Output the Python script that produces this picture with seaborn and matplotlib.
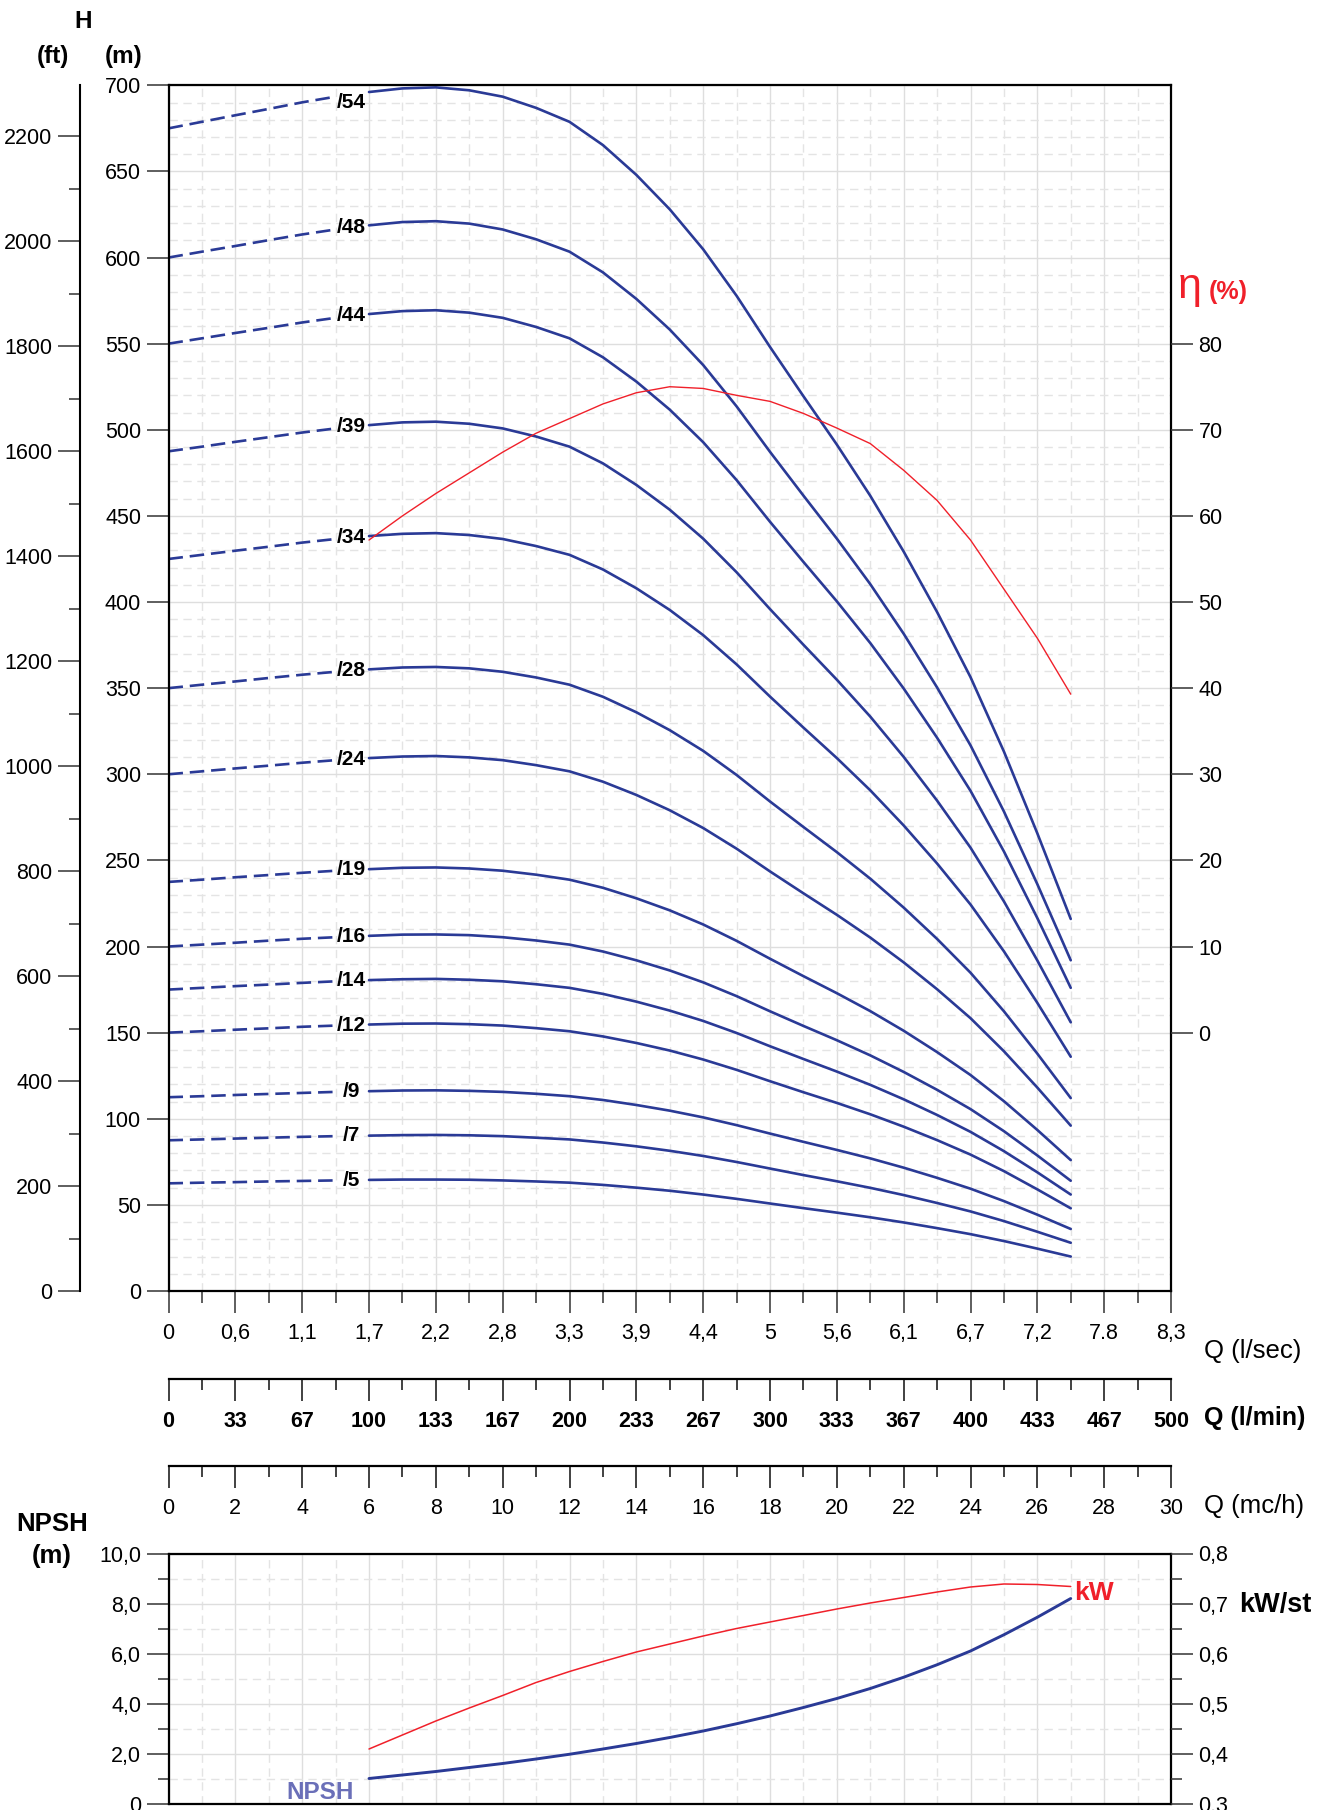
import matplotlib
matplotlib.use("Agg")
import matplotlib.pyplot as plt
import seaborn as sns
from matplotlib.ticker import MultipleLocator

sns.set_style("white")
plt.rcParams['font.family'] = ['Liberation Sans', 'DejaVu Sans']
plt.rcParams['text.color'] = 'black'
plt.rcParams['xtick.labelcolor'] = 'black'
plt.rcParams['ytick.labelcolor'] = 'black'

# flow in m3/h; points 0..5 are the dashed start, 6..27 the solid curve
q = list(range(28))

h5 = [62.5, 62.9, 63.2, 63.6, 63.9, 64.2,
      64.5, 64.7, 64.7, 64.6, 64.2, 63.6, 62.9, 61.6, 60.0, 58.2, 56.0, 53.5, 50.8, 48.1, 45.5, 42.8, 39.8, 36.5, 33.0, 29.0, 24.6, 20.0]
h7 = [87.5, 88.0, 88.5, 89.0, 89.5, 89.9,
      90.2, 90.5, 90.6, 90.4, 89.9, 89.0, 88.0, 86.2, 84.0, 81.4, 78.4, 74.9, 71.1, 67.3, 63.7, 59.9, 55.7, 51.1, 46.2, 40.6, 34.4, 28.0]
h9 = [112.5, 113.1, 113.8, 114.4, 115.0, 115.6,
      116.0, 116.4, 116.5, 116.2, 115.6, 114.5, 113.1, 110.9, 108.0, 104.7, 100.8, 96.3, 91.4, 86.6, 81.9, 77.0, 71.6, 65.7, 59.4, 52.2, 44.3, 36.0]
h12 = [150.0, 150.8, 151.7, 152.5, 153.4, 154.1,
       154.7, 155.2, 155.3, 154.9, 154.1, 152.6, 150.8, 147.8, 144.0, 139.6, 134.4, 128.4, 121.8, 115.4, 109.2, 102.6, 95.4, 87.6, 79.2, 69.6, 59.0, 48.0]
h14 = [175.0, 176.0, 177.0, 177.9, 178.9, 179.8,
       180.5, 181.0, 181.2, 180.7, 179.8, 178.1, 176.0, 172.5, 168.0, 162.8, 156.8, 149.8, 142.1, 134.7, 127.4, 119.7, 111.3, 102.2, 92.4, 81.2, 68.9, 56.0]
h16 = [200.0, 201.1, 202.2, 203.4, 204.5, 205.4,
       206.2, 206.9, 207.0, 206.6, 205.4, 203.5, 201.1, 197.1, 192.0, 186.1, 179.2, 171.2, 162.4, 153.9, 145.6, 136.8, 127.2, 116.8, 105.6, 92.8, 78.7, 64.0]
h19 = [237.5, 238.8, 240.2, 241.5, 242.8, 244.0,
       244.9, 245.7, 245.9, 245.3, 244.0, 241.7, 238.8, 234.1, 228.0, 221.0, 212.8, 203.3, 192.9, 182.8, 172.9, 162.5, 151.1, 138.7, 125.4, 110.2, 93.5, 76.0]
h24 = [300.0, 301.7, 303.4, 305.0, 306.7, 308.2,
       309.4, 310.3, 310.6, 309.8, 308.2, 305.3, 301.7, 295.7, 288.0, 279.1, 268.8, 256.8, 243.6, 230.9, 218.4, 205.2, 190.8, 175.2, 158.4, 139.2, 118.1, 96.0]
h28 = [350.0, 352.0, 353.9, 355.9, 357.8, 359.5,
       360.9, 362.0, 362.3, 361.5, 359.5, 356.2, 352.0, 345.0, 336.0, 325.6, 313.6, 299.6, 284.2, 269.4, 254.8, 239.4, 222.6, 204.4, 184.8, 162.4, 137.8, 112.0]
h34 = [425.0, 427.4, 429.8, 432.1, 434.5, 436.6,
       438.3, 439.6, 440.0, 438.9, 436.6, 432.5, 427.4, 418.9, 408.0, 395.4, 380.8, 363.8, 345.1, 327.1, 309.4, 290.7, 270.3, 248.2, 224.4, 197.2, 167.3, 136.0]
h39 = [487.5, 490.2, 493.0, 495.7, 498.4, 500.8,
       502.7, 504.3, 504.7, 503.5, 500.8, 496.1, 490.2, 480.5, 468.0, 453.6, 436.8, 417.3, 395.9, 375.2, 354.9, 333.5, 310.1, 284.7, 257.4, 226.2, 191.9, 156.0]
h44 = [550.0, 553.1, 556.2, 559.2, 562.3, 565.0,
       567.2, 568.9, 569.4, 568.0, 565.0, 559.7, 553.1, 542.1, 528.0, 511.7, 492.8, 470.8, 446.6, 423.3, 400.4, 376.2, 349.8, 321.2, 290.4, 255.2, 216.5, 176.0]
h48 = [600.0, 603.4, 606.7, 610.1, 613.4, 616.3,
       618.7, 620.6, 621.1, 619.7, 616.3, 610.6, 603.4, 591.4, 576.0, 558.2, 537.6, 513.6, 487.2, 461.8, 436.8, 410.4, 381.6, 350.4, 316.8, 278.4, 236.2, 192.0]
h54 = [675.0, 678.8, 682.6, 686.3, 690.1, 693.4,
       696.1, 698.2, 698.8, 697.1, 693.4, 686.9, 678.8, 665.3, 648.0, 628.0, 604.8, 577.8, 548.1, 519.5, 491.4, 461.7, 429.3, 394.2, 356.4, 313.2, 265.7, 216.0]

curve_names = ['/5', '/7', '/9', '/12', '/14', '/16', '/19', '/24', '/28', '/34', '/39', '/44', '/48', '/54']
curves = [h5, h7, h9, h12, h14, h16, h19, h24, h28, h34, h39, h44, h48, h54]

# efficiency (%), power per stage (kW) and NPSH (m) from 6 to 27 m3/h
q_op = list(range(6, 28))
eta = [57.2, 60.0, 62.6, 65.0, 67.4, 69.6, 71.3, 73.0, 74.3, 75.0, 74.8, 74.0, 73.3, 71.9, 70.2, 68.4, 65.3, 61.8, 57.2, 51.5, 45.8, 39.3]
kw = [0.409, 0.437, 0.465, 0.491, 0.516, 0.542, 0.564, 0.584, 0.603, 0.619, 0.635, 0.650, 0.663, 0.676, 0.689, 0.701, 0.712, 0.723, 0.733, 0.739, 0.738, 0.734]
npsh = [1.0, 1.14, 1.28, 1.44, 1.6, 1.78, 1.97, 2.18, 2.4, 2.64, 2.9, 3.19, 3.5, 3.84, 4.2, 4.6, 5.05, 5.55, 6.1, 6.75, 7.45, 8.2]

lps_labels = ['0', '0,6', '1,1', '1,7', '2,2', '2,8', '3,3', '3,9', '4,4', '5', '5,6', '6,1', '6,7', '7,2', '7.8', '8,3']
lpm_labels = ['0', '33', '67', '100', '133', '167', '200', '233', '267', '300', '333', '367', '400', '433', '467', '500']
mch_labels = [str(v) for v in range(0, 31, 2)]
npsh_labels = ['0', '2,0', '4,0', '6,0', '8,0', '10,0']
kw_labels = ['0,3', '0,4', '0,5', '0,6', '0,7', '0,8']

BLUE = '#2a3a96'
RED = '#f0202a'
GRID = '#dedede'
TICK = '#333333'
LBL = 15.5
W, H = 1322, 1810


def rect(l, t, r, b):
    return [l / W, 1 - b / H, (r - l) / W, (b - t) / H]


def ftext(x, y, s, **kw_):
    fig.text(x / W, 1 - y / H, s, **kw_)


def style_grid(a):
    a.set_axisbelow(True)
    a.grid(which='major', color=GRID, lw=1.0, ls='-')
    a.grid(which='minor', color='#e4e4e4', lw=1.0, ls=(0, (6, 4)))


fig = plt.figure(figsize=(W / 100, H / 100), dpi=100)
ax = fig.add_axes(rect(168.5, 85.3, 1171, 1291))
axb = fig.add_axes(rect(168.5, 1553.5, 1171, 1803.5))

# ---- head curves
for name, h in zip(curve_names, curves):
    sns.lineplot(x=q[:6], y=h[:6], ax=ax, color=BLUE, lw=1.9, linestyle=(0, (5.5, 2.6)))
    sns.lineplot(x=q[6:], y=h[6:], ax=ax, color=BLUE, lw=1.9, solid_joinstyle='round')
    ylab = (h[5] + h[6]) / 2
    if name == '/54':
        ylab -= 4.5
    ax.text(5.47, ylab, name, ha='center', va='center',
            fontsize=15, fontweight='bold', color='black')

ax.set_xlim(0, 30)
ax.set_ylim(0, 700)
ax.set_xlabel('')
ax.set_ylabel('')
ax.set_xticks(range(0, 31, 2))
ax.set_xticklabels(lps_labels)
ax.xaxis.set_minor_locator(MultipleLocator(1))
ax.yaxis.set_major_locator(MultipleLocator(50))
ax.yaxis.set_minor_locator(MultipleLocator(10))
ax.tick_params(which='both', bottom=True, left=True, top=False, right=False)
ax.tick_params(which='major', direction='out', length=15.8, width=1.1, color=TICK,
               labelsize=LBL, pad=4)
ax.tick_params(axis='x', which='major', pad=7)
ax.tick_params(axis='x', which='minor', direction='out', length=8.5, width=1.1, color=TICK)
ax.tick_params(axis='y', which='minor', length=0)
style_grid(ax)
for s in ax.spines.values():
    s.set_color('black')
    s.set_linewidth(1.6)

# feet scale
ax_ft = ax.twinx()
ax_ft.set_ylim(0, 700 / 0.3048)
ax_ft.yaxis.tick_left()
ax_ft.yaxis.set_major_locator(MultipleLocator(200))
ax_ft.yaxis.set_minor_locator(MultipleLocator(100))
for k in ['top', 'bottom', 'right']:
    ax_ft.spines[k].set_visible(False)
ax_ft.spines['left'].set_visible(True)
ax_ft.spines['left'].set_position(('axes', -88.5 / 1002.5))
ax_ft.spines['left'].set_linewidth(1.5)
ax_ft.spines['left'].set_color('black')
ax_ft.tick_params(which='both', left=True, right=False)
ax_ft.tick_params(which='major', direction='out', length=15.8, width=1.1, color=TICK,
                  labelsize=LBL, pad=4)
ax_ft.tick_params(which='minor', direction='out', length=8, width=1.1, color=TICK)

# efficiency
ax_eta = ax.twinx()
sns.lineplot(x=q_op, y=eta, ax=ax_eta, color=RED, lw=1.0, solid_joinstyle='round')
ax_eta.set_ylim(-30, 110)
ax_eta.set_ylabel('')
ax_eta.set_yticks(range(0, 81, 10))
for s in ax_eta.spines.values():
    s.set_visible(False)
ax_eta.tick_params(axis='y', right=True, left=False, direction='out', length=15.8, width=1.1,
                   color=TICK, labelsize=LBL, pad=4)

# l/min and m3/h scales
for top, labels, bold in [(1379, lpm_labels, True), (1466, mch_labels, False)]:
    sa = fig.add_axes(rect(168.5, top - 0.5, 1171, top))
    sa.patch.set_visible(False)
    sa.set_xlim(0, 30)
    sa.set_xticks(range(0, 31, 2))
    sa.set_xticklabels(labels, fontweight='bold' if bold else 'normal')
    sa.xaxis.set_minor_locator(MultipleLocator(1))
    sa.set_yticks([])
    for k in ['top', 'left', 'right']:
        sa.spines[k].set_visible(False)
    sa.spines['bottom'].set_linewidth(1.6)
    sa.spines['bottom'].set_color('black')
    sa.tick_params(axis='x', which='both', bottom=True, top=False)
    sa.tick_params(axis='x', which='major', direction='out', length=15.8, width=1.3,
                   color=TICK, labelsize=LBL, pad=7)
    sa.tick_params(axis='x', which='minor', direction='out', length=8, width=1.3, color=TICK)

# ---- NPSH / kW panel
sns.lineplot(x=q_op, y=npsh, ax=axb, color=BLUE, lw=2.1, solid_joinstyle='round')
axb.set_xlim(0, 30)
axb.set_ylim(0, 10)
axb.set_xlabel('')
axb.set_ylabel('')
axb.xaxis.set_major_locator(MultipleLocator(2))
axb.xaxis.set_minor_locator(MultipleLocator(1))
axb.set_yticks(range(0, 11, 2))
axb.set_yticklabels(npsh_labels)
axb.yaxis.set_minor_locator(MultipleLocator(1))
axb.tick_params(axis='x', which='both', length=0, labelbottom=False)
axb.tick_params(axis='y', which='both', left=True, right=False)
axb.tick_params(axis='y', which='major', direction='out', length=15.8, width=1.1, color=TICK,
                labelsize=LBL, pad=4)
axb.tick_params(axis='y', which='minor', direction='out', length=8, width=1.1, color=TICK)
style_grid(axb)
for s in axb.spines.values():
    s.set_color('black')
    s.set_linewidth(1.6)
axb.text(5.55, 0.46, 'NPSH', ha='right', va='center', fontsize=17.5, fontweight='bold',
         color='#6a6fb8')

axk = axb.twinx()
sns.lineplot(x=q_op, y=kw, ax=axk, color=RED, lw=1.1, solid_joinstyle='round')
axk.set_ylim(0.3, 0.8)
axk.set_ylabel('')
axk.set_yticks([0.3, 0.4, 0.5, 0.6, 0.7, 0.8])
axk.set_yticklabels(kw_labels)
axk.yaxis.set_minor_locator(MultipleLocator(0.05))
for s in axk.spines.values():
    s.set_visible(False)
axk.tick_params(axis='y', which='both', right=True, left=False)
axk.tick_params(axis='y', which='major', direction='out', length=15.8, width=1.1, color=TICK,
                labelsize=LBL, pad=4)
axk.tick_params(axis='y', which='minor', direction='out', length=8, width=1.1, color=TICK)
axk.text(27.1, kw[-1] - 0.012, 'kW', ha='left', va='center', fontsize=19, fontweight='bold',
         color=RED)

# ---- titles and units
ftext(83, 21, 'H', ha='center', va='center', fontsize=17.5, fontweight='bold')
ftext(53, 57, '(ft)', ha='center', va='center', fontsize=17.5, fontweight='bold')
ftext(123.5, 57, '(m)', ha='center', va='center', fontsize=17.5, fontweight='bold')
ftext(1178, 287, 'η', ha='left', va='center', fontsize=31, color=RED)
ftext(1209, 292, '(%)', ha='left', va='center', fontsize=18, fontweight='bold', color=RED)
ftext(1204, 1351, 'Q (l/sec)', ha='left', va='center', fontsize=18.5)
ftext(1204, 1418, 'Q (l/min)', ha='left', va='center', fontsize=18, fontweight='bold')
ftext(1204, 1506, 'Q (mc/h)', ha='left', va='center', fontsize=18.5)
ftext(52, 1524, 'NPSH', ha='center', va='center', fontsize=18.5, fontweight='bold')
ftext(52, 1556, '(m)', ha='center', va='center', fontsize=18.5, fontweight='bold')
ftext(1239, 1605, 'kW/st', ha='left', va='center', fontsize=19.5, fontweight='bold')

fig.savefig('out.png', dpi=100)
